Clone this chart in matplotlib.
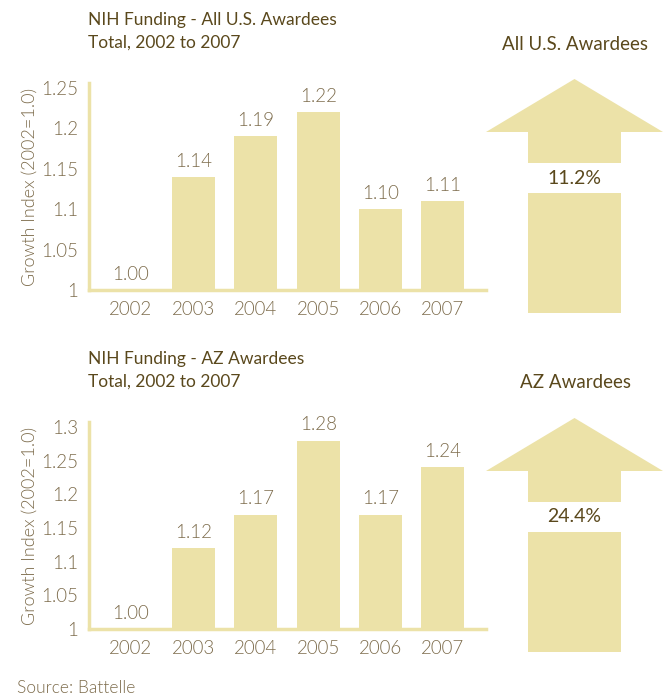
import matplotlib
matplotlib.use('Agg')
import matplotlib.pyplot as plt
from matplotlib.patches import Polygon, Rectangle

# data
years = ['2002', '2003', '2004', '2005', '2006', '2007']
us_index = [1.00, 1.14, 1.19, 1.22, 1.10, 1.11]
az_index = [1.00, 1.12, 1.17, 1.28, 1.17, 1.24]
us_growth = 11.2
az_growth = 24.4
us_ticks = [1, 1.05, 1.1, 1.15, 1.2, 1.25]
az_ticks = [1, 1.05, 1.1, 1.15, 1.2, 1.25, 1.3]

BAR = '#ece2a8'
DARK = '#5a481c'
MID = '#7d6c4c'

plt.rcParams['font.family'] = ['Lato', 'DejaVu Sans']

W, H = 670, 698
fig = plt.figure(figsize=(W / 100, H / 100), dpi=100)


def px_axes(x0, y0, x1, y1):
    # pixel box (top-left origin) -> figure axes
    return fig.add_axes([x0 / W, 1 - y1 / H, (x1 - x0) / W, (y1 - y0) / H])


def bar_panel(top, bottom, vals, ticks, ymax, title, sub):
    ax = px_axes(89, top, 486, bottom)
    x = list(range(len(vals)))
    ax.bar(x, [v - 1 for v in vals], bottom=1, width=0.69, color=BAR, zorder=1)
    for xi, v in zip(x, vals):
        ax.text(xi, v + (ymax - 1) * 0.035, '%.2f' % v, ha='center', va='bottom',
                fontsize=13.5, color=MID, fontweight=300)
    ax.set_xlim(-0.673, 5.69)
    ax.set_ylim(1, ymax)
    ax.set_xticks(x)
    ax.set_xticklabels(years, fontweight=300)
    ax.set_yticks(ticks)
    ax.set_yticklabels(['%g' % t for t in ticks], fontweight=300)
    for s in ['top', 'right']:
        ax.spines[s].set_visible(False)
    for s in ['left', 'bottom']:
        ax.spines[s].set_color(BAR)
        ax.spines[s].set_linewidth(2.5)
    ax.tick_params(length=0, labelsize=13.5, colors=MID, pad=8)
    ax.tick_params(axis='x', pad=8)
    ax.set_ylabel('Growth Index (2002=1.0)', fontsize=13, color=MID, labelpad=2,
                  fontweight=300)
    ax.patch.set_alpha(0)
    fig.text(88 / W, 1 - (top - 63) / H, title, fontsize=12.5, color=DARK, va='center')
    fig.text(88 / W, 1 - (top - 40) / H, sub, fontsize=12.5, color=DARK, va='center')
    return ax


def arrow_panel(top, bottom, label, pct):
    ax = px_axes(486, top, 663, bottom)
    ax.set_xlim(0, 177)
    ax.set_ylim(bottom - top, 0)
    ax.axis('off')
    ax.add_patch(Polygon([(0, 53), (88.5, 0), (177, 53)], closed=True, color=BAR, lw=0))
    ax.add_patch(Rectangle((42, 52), 93, 32, color=BAR, lw=0))
    ax.add_patch(Rectangle((42, 114), 93, bottom - top - 114, color=BAR, lw=0))
    ax.text(88.5, 99, '%.1f%%' % pct, ha='center', va='center', fontsize=14, color=DARK)
    fig.text(575 / W, 1 - (top - 35) / H, label, ha='center', va='center',
             fontsize=13.5, color=DARK)


bar_panel(83, 290, us_index, us_ticks, 1.256,
          'NIH Funding - All U.S. Awardees', 'Total, 2002 to 2007')
arrow_panel(79, 313, 'All U.S. Awardees', us_growth)

bar_panel(422, 629, az_index, az_ticks, 1.3075,
          'NIH Funding - AZ Awardees', 'Total, 2002 to 2007')
arrow_panel(418, 652, 'AZ Awardees', az_growth)

fig.text(17 / W, 1 - 688 / H, 'Source: Battelle', fontsize=12.5, color=MID, va='center',
         fontweight=300)

plt.savefig('out.png', dpi=100)
